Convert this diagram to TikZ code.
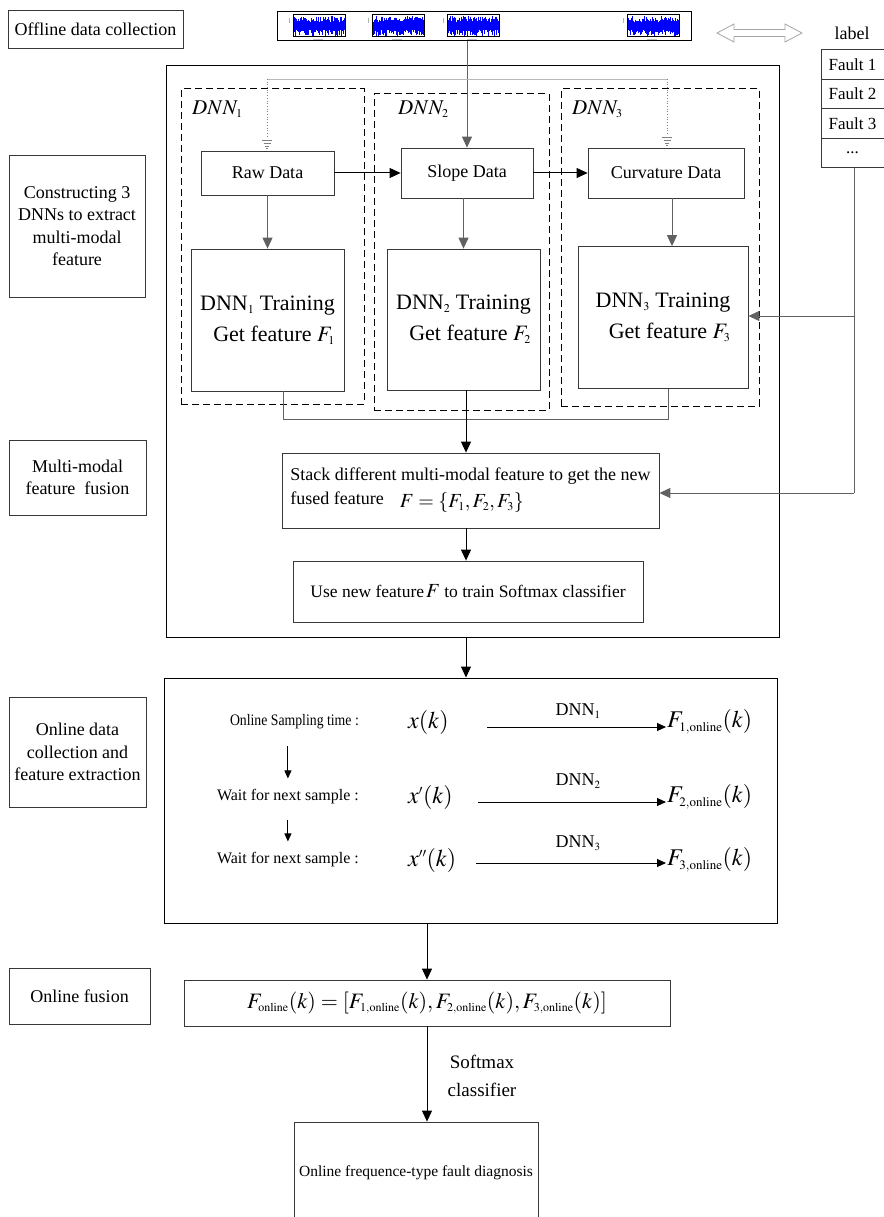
\documentclass[tikz,border=0pt]{standalone}
\usepackage{mathptmx}
\usepackage{fontspec}
\setmainfont{Liberation Serif}
\usetikzlibrary{arrows.meta}
\DeclareMathSizes{18}{18}{11}{8}
\DeclareMathSizes{20}{20}{12}{9}
\DeclareMathSizes{21}{21}{12}{9}
\DeclareMathSizes{22}{22}{12}{9}
\DeclareMathSizes{24}{24}{13}{10}
\newcommand{\fsz}[2]{\fontsize{#1}{#2}\selectfont}
\definecolor{lnk}{gray}{0.38}
\definecolor{bdr}{gray}{0.22}
\newcommand{\sigimg}[1]{%
  \begin{scope}[shift={(#1,15)}]
    \draw[gray!60, line width=0.5pt] (-4,3) -- (-4,8);
    \draw[gray!50, line width=0.4pt] (20,24.5) -- (30,24.5);
    \foreach \i in {1,...,51}{%
      \pgfmathsetmacro{\ua}{4+6*rnd}%
      \pgfmathsetmacro{\ub}{4+6*rnd}%
      \draw[blue, line width=0.9pt] (\i,11-\ua) -- (\i,11+\ub);
    }
    \draw[black, line width=1pt] (0,0) rectangle (52,22);
  \end{scope}}
\begin{document}
\begin{tikzpicture}[x=1pt,y=-1pt,
  lbox/.style={draw=bdr, line width=0.8pt, align=center, font=\fsz{18}{22.5}, inner sep=2pt},
  fbox/.style={draw=bdr, line width=0.8pt, minimum width=63pt, minimum height=29.5pt, font=\fsz{17}{20}, inner sep=1pt},
  dbox/.style={draw=bdr, line width=0.8pt, align=center, font=\fsz{18}{22}, inner sep=2pt},
  tbox/.style={draw=bdr, line width=0.8pt, align=right, font=\fsz{22}{31}, inner sep=2pt},
  dashbox/.style={draw=black, line width=1pt, dash pattern=on 7pt off 4pt},
  obox/.style={draw=black, line width=1pt},
  gline/.style={draw=lnk, line width=1pt},
  garrow/.style={draw=lnk, line width=1pt, -{Triangle[length=11pt,width=10pt]}},
  barrow/.style={draw=black, line width=1pt, -{Triangle[length=11pt,width=10pt]}},
  rarrow/.style={draw=black, line width=0.9pt, -{Triangle[length=9pt,width=8pt]}},
  sarrow/.style={draw=black, line width=0.9pt, -{Triangle[length=8pt,width=7pt]}},
  rowtxt/.style={font=\fsz{16}{18}, inner sep=1pt},
  mtxt/.style={font=\fsz{24}{26}, inner sep=1pt},
  dnnlbl/.style={font=\fsz{18}{20}, inner sep=1pt}
]
\useasboundingbox (0,0) rectangle (883,1217);
\fill[white] (0,0) rectangle (883,1217);

% ---------- left column ----------
\node[lbox, minimum width=175pt, minimum height=38pt] (off) at (95.5,29) {Offline data collection};
\node[lbox, minimum width=136pt, minimum height=142pt] (cons) at (77,226) {Constructing 3\\DNNs to extract\\multi-modal\\feature};
\node[lbox, minimum width=137pt, minimum height=75pt] (mmf) at (77.5,477.5) {Multi-modal\\feature\ \ fusion};
\node[lbox, minimum width=137pt, minimum height=110pt] (odc) at (77.5,752) {Online data\\collection and\\feature extraction};
\node[lbox, minimum width=141pt, minimum height=56pt] (ofu) at (79.5,996) {Online fusion};

% ---------- signal strip ----------
\node[draw=black, line width=1pt, minimum width=414pt, minimum height=29pt, inner sep=0pt] (strip) at (484,26.5) {};
\pgfmathsetseed{17}
\sigimg{293}
\sigimg{372}
\sigimg{447}
\sigimg{627}

% double arrow
\draw[gray!70, line width=0.8pt] (717,33) -- (734,24) -- (734,29.5) -- (785,29.5) -- (785,24) -- (802,33) -- (785,42) -- (785,36.5) -- (734,36.5) -- (734,42) -- cycle;

% label table
\node[font=\fsz{18}{20}, inner sep=1pt] (lab) at (852,33) {label};
\node[fbox] (f1) at (852.5,64.5) {Fault 1};
\node[fbox] (f2) at (852.5,94) {Fault 2};
\node[fbox] (f3) at (852.5,123.5) {Fault 3};
\node[fbox] (f4) at (852.5,153) {...};

% ---------- offline big box ----------
\node[obox, minimum width=613pt, minimum height=571pt, inner sep=0pt] (offline) at (472.5,351.5) {};

% dashed DNN regions
\node[dashbox, minimum width=183pt, minimum height=315pt, inner sep=0pt] (d1) at (272.5,246.5) {};
\node[dashbox, minimum width=175pt, minimum height=316pt, inner sep=0pt] (d2) at (461.5,252) {};
\node[dashbox, minimum width=198pt, minimum height=317pt, inner sep=0pt] (d3) at (660,247.5) {};
\node[dnnlbl, anchor=west] (l1) at (191,109) {\fsz{21}{22}$DNN_1$};
\node[dnnlbl, anchor=west] (l2) at (397,109) {\fsz{21}{22}$DNN_2$};
\node[dnnlbl, anchor=west] (l3) at (571,109) {\fsz{21}{22}$DNN_3$};

% data boxes
\node[dbox, minimum width=133pt, minimum height=44pt] (raw) at (267.5,173) {Raw Data};
\node[dbox, minimum width=132pt, minimum height=50pt] (slope) at (467,173) {Slope Data};
\node[dbox, minimum width=156pt, minimum height=50pt] (curv) at (666,173) {Curvature Data};

% training boxes
\node[tbox, minimum width=153pt, minimum height=142pt] (t1) at (267.5,320) {DNN$_1$ Training\\Get feature $F_1$};
\node[tbox, minimum width=153pt, minimum height=141pt] (t2) at (463.5,319.5) {DNN$_2$ Training\\Get feature $F_2$};
\node[tbox, minimum width=170pt, minimum height=142pt] (t3) at (663,317.5) {DNN$_3$ Training\\Get feature $F_3$};

% fusion and softmax
\node[draw=bdr, line width=0.8pt, minimum width=377pt, minimum height=75pt, align=left, font=\fsz{18}{24}, inner sep=3pt] (fusion) at (470.5,490.5)
  {Stack different multi-modal feature to get the new\\fused feature\hspace{16pt}\raisebox{-3pt}{\fsz{20}{22}$F=\{F_1,F_2,F_3\}$}};
\node[draw=bdr, line width=0.8pt, minimum width=350pt, minimum height=61pt, font=\fsz{17.5}{20}] (softmax) at (468,591.5)
  {Use new feature$\,$\fsz{20}{22}$F$\fsz{17.5}{20} to train Softmax classifier};

% ---------- connectors (offline) ----------
\draw[garrow] (strip.south -| slope.north) -- (slope.north);
\coordinate (tap1) at (267,79);
\coordinate (tap3) at (667,79);
\draw[gray!55, line width=0.7pt] (tap1) -- (tap3);
\draw[gray, line width=0.7pt, dotted] (tap1) -- ([yshift=13pt]raw.north -| tap1);
\draw[gray, line width=0.7pt, dotted] (tap3) -- ([yshift=13pt]curv.north -| tap3);
\foreach \c/\yy in {tap1/151, tap3/148}{%
  \draw[gray, line width=0.6pt] ([xshift=-5pt]\c |- 0,\yy-11) -- ([xshift=5pt]\c |- 0,\yy-11);
  \draw[gray, line width=0.6pt] ([xshift=-3.5pt]\c |- 0,\yy-8) -- ([xshift=3.5pt]\c |- 0,\yy-8);
  \draw[gray, line width=0.6pt] ([xshift=-2pt]\c |- 0,\yy-5) -- ([xshift=2pt]\c |- 0,\yy-5);
  \draw[gray, line width=0.6pt] ([xshift=-0.8pt]\c |- 0,\yy-2.5) -- ([xshift=0.8pt]\c |- 0,\yy-2.5);
}
\draw[barrow] (raw.east) -- (slope.west);
\draw[barrow] (slope.east) -- (curv.west);
\draw[garrow] (raw.south) -- (raw.south |- t1.north);
\draw[garrow] (slope.south -| t2.north) -- (t2.north);
\draw[garrow] ([xshift=6pt]curv.south) -- ([xshift=6pt]curv.south |- t3.north);
\draw[gline] ([xshift=15.5pt]t1.south) -- ++(0,28) -| ([xshift=5pt]t3.south);
\draw[barrow] ([xshift=2.5pt]t2.south) -- ([xshift=2.5pt]t2.south |- fusion.north);
\draw[barrow] ([xshift=-4.5pt]fusion.south) -- ([xshift=-4.5pt]fusion.south |- softmax.north);
% label feedback
\coordinate (lj) at (854,493);
\draw[gline] ([xshift=1.5pt]f4.south) -- (lj);
\draw[garrow] (lj |- 0,316) -- (t3.east |- 0,316);
\draw[garrow] (lj) -- (fusion.east |- lj);

% ---------- online box ----------
\node[obox, minimum width=613pt, minimum height=245pt, inner sep=0pt] (online) at (470.5,800.5) {};
\draw[barrow] ([xshift=-6.5pt]offline.south) -- ([xshift=-6.5pt]offline.south |- online.north);

\node[rowtxt, anchor=east] (s1) at (360,722) {\scalebox{0.86}[1]{Online Sampling time :}};
\node[rowtxt, anchor=east] (s2) at (360,797) {Wait for next sample :};
\node[rowtxt, anchor=east] (s3) at (360,860) {Wait for next sample :};
\draw[sarrow] ([yshift=-16pt]s2.north |- s1.south) -- ([yshift=10pt]s2.north);
\draw[sarrow] ([yshift=-14pt]s2.south) -- ([yshift=10pt]s3.north);

\node[mtxt, anchor=west] (x1) at (407,722) {$x(k)$};
\node[mtxt, anchor=west] (x2) at (407,797) {$x'(k)$};
\node[mtxt, anchor=west] (x3) at (407,860) {$x''(k)$};

\node[mtxt, anchor=west] (F1) at (666,722) {$F_{1,\mathrm{online}}(k)$};
\node[mtxt, anchor=west] (F2) at (666,797) {$F_{2,\mathrm{online}}(k)$};
\node[mtxt, anchor=west] (F3) at (666,860) {$F_{3,\mathrm{online}}(k)$};

\coordinate (a1) at (487,727);
\coordinate (a2) at (478,802);
\coordinate (a3) at (476,863);
\draw[rarrow] (a1) -- (a1 -| F1.west);
\draw[rarrow] (a2) -- (a2 -| F2.west);
\draw[rarrow] (a3) -- (a3 -| F3.west);
\node[dnnlbl] (n1) at (578,711) {DNN$_1$};
\node[dnnlbl] (n2) at (578,781) {DNN$_2$};
\node[dnnlbl] (n3) at (578,843) {DNN$_3$};

% ---------- online fusion ----------
\node[draw=bdr, line width=0.8pt, minimum width=486pt, minimum height=46pt, font=\fsz{22}{24}, inner sep=1pt] (formula) at (427,1003)
  {$F_{\mathrm{online}}(k)=[F_{1,\mathrm{online}}(k),F_{2,\mathrm{online}}(k),F_{3,\mathrm{online}}(k)]$};
\draw[barrow] (formula.north |- online.south) -- (formula.north);

\node[draw=bdr, line width=0.8pt, minimum width=244pt, minimum height=102pt, font=\fsz{15.5}{18}] (diag) at (416,1173) {Online frequence-type fault diagnosis};
\draw[barrow] (formula.south) -- (formula.south |- diag.north);
\node[font=\fsz{19}{28}, align=center, inner sep=1pt] (smx) at (482,1076) {Softmax\\classifier};
\end{tikzpicture}
\end{document}
